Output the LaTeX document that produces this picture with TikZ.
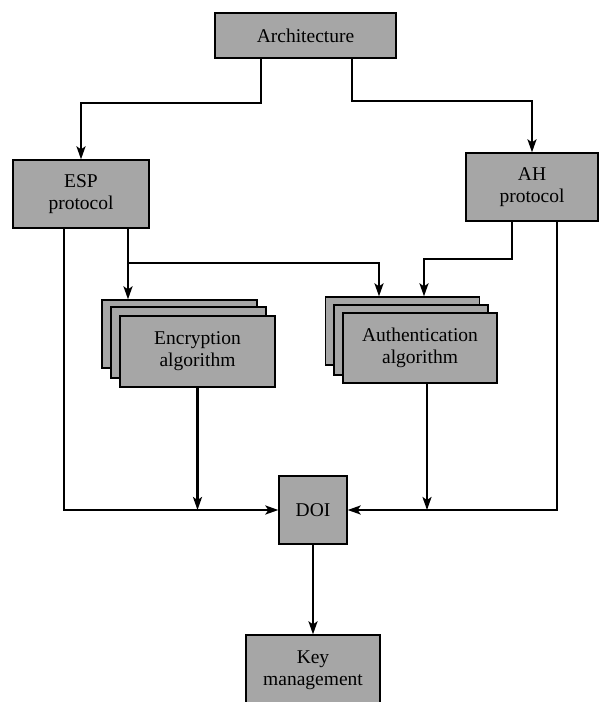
\documentclass[tikz,border=0pt]{standalone}
\usepackage{fontspec}
\setmainfont{Liberation Serif}
\newfontfamily\boxfont{Liberation Serif}
\usetikzlibrary{arrows.meta}
\begin{document}
\begin{tikzpicture}[x=1pt,y=-1pt,
  box/.style={draw=black, line width=1.3pt, fill=black!35, align=center,
    inner sep=0pt, font=\boxfont\fontsize{19.5}{22}\selectfont},
  arr/.style={line width=2.2pt, -{Stealth[length=13pt,width=9pt,inset=3pt]}}]
\useasboundingbox (0,0) rectangle (599,702);

% top-level and protocol boxes
\node[box, minimum width=181pt, minimum height=45pt] (arch) at (305.5,35.5) {Architecture};
\node[box, minimum width=136pt, minimum height=68pt] (esp) at (81,194) {ESP\\protocol};
\node[box, minimum width=132pt, minimum height=68pt] (ah) at (532,187) {AH\\protocol};

% stacked algorithm boxes
\node[box, minimum width=155pt, minimum height=68pt] (enc3) at (179.5,334) {};
\node[box, minimum width=155pt, minimum height=71pt] (enc2) at (188.5,342.5) {};
\node[box, minimum width=155pt, minimum height=71pt] (enc1) at (197.5,351.5) {Encryption\\algorithm};

\node[box, minimum width=154pt, minimum height=68pt] (auth3) at (402.5,331) {};
\node[box, minimum width=154pt, minimum height=70pt] (auth2) at (411,340) {};
\node[box, minimum width=154pt, minimum height=70pt] (auth1) at (420,348) {Authentication\\algorithm};

% DOI and key management
\node[box, minimum width=68pt, minimum height=68pt] (doi) at (313,510) {DOI};
\node[box, minimum width=134pt, minimum height=70pt] (key) at (313,670) {Key\\management};

% junction points
\path ([xshift=47pt,yshift=-34pt]esp.south) coordinate (j1);
\path ([xshift=-20pt,yshift=-37pt]ah.south) coordinate (j2);

% architecture to protocols
\draw[arr] ([xshift=-44.5pt]arch.south) -- ++(0,44) -| (esp.north);
\draw[arr] ([xshift=46.5pt]arch.south) -- ++(0,42) -| (ah.north);

% ESP connections
\draw[arr] ([xshift=-17pt]esp.south) |- (doi.west);
\draw[arr] ([xshift=47pt]esp.south) -- (j1 |- enc3.north);
\draw[arr] (j1) -| ([xshift=-23.5pt]auth3.north);

% AH connections
\draw[arr] ([xshift=-20pt]ah.south) -- (j2) -| ([xshift=21.5pt]auth3.north);
\draw[arr] ([xshift=25pt]ah.south) |- (doi.east);

% algorithms to DOI lines
\draw[arr] (enc1.south) -- (enc1.south |- doi.west);
\draw[arr] ([xshift=7pt]auth1.south) -- ([xshift=7pt]auth1.south |- doi.east);

% DOI to key management
\draw[arr] (doi) -- (key);
\end{tikzpicture}
\end{document}
